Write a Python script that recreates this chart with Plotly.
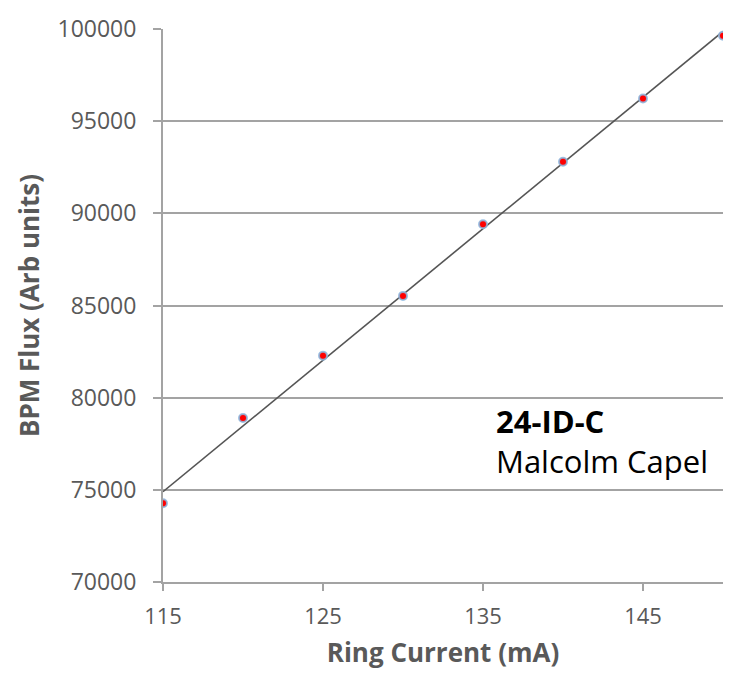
import numpy as np
import plotly.graph_objects as go

ring_current = [115, 120, 125, 130, 135, 140, 145, 150]
bpm_flux = [74275, 78900, 82280, 85520, 89410, 92800, 96230, 99640]
x_ticks = [115, 125, 135, 145]
y_ticks = [70000, 75000, 80000, 85000, 90000, 95000, 100000]

slope, intercept = np.polyfit(ring_current, bpm_flux, 1)
trend_x = [min(ring_current), max(ring_current)]
trend_y = [slope * v + intercept for v in trend_x]

FONT = "Open Sans"
GRAY = "#595959"
GRID = "#a3a3a3"

fig = go.Figure()
fig.add_trace(go.Scatter(x=trend_x, y=trend_y, mode="lines",
                         line=dict(color="#555555", width=1.6),
                         hoverinfo="skip", showlegend=False))
fig.add_trace(go.Scatter(x=ring_current, y=bpm_flux, mode="markers",
                         marker=dict(color="#ff0000", size=8,
                                     line=dict(color="rgba(140,185,225,0.85)", width=2)),
                         showlegend=False))

fig.update_layout(
    width=736, height=678,
    margin=dict(l=163, r=13, t=19, b=96),
    paper_bgcolor="white", plot_bgcolor="white",
    font=dict(family=FONT, color=GRAY),
    xaxis=dict(range=[115, 150], tickvals=x_ticks, ticks="outside", ticklen=7,
               tickcolor=GRID, tickwidth=1.5, showgrid=False, zeroline=False,
               showline=True, linecolor=GRID, linewidth=2,
               tickfont=dict(size=22, color=GRAY), ticklabelstandoff=7,
               title=dict(text="<b>Ring Current (mA)</b>", font=dict(size=26, color=GRAY),
                          standoff=14)),
    yaxis=dict(range=[70000, 100000], tickvals=y_ticks, tickformat="d",
               ticks="outside", ticklen=8,
               tickcolor=GRID, tickwidth=1.5, showgrid=True, gridcolor=GRID, gridwidth=2,
               zeroline=False, showline=True, linecolor=GRID, linewidth=2,
               tickfont=dict(size=23, color=GRAY), ticklabelstandoff=12,
               title=dict(text="<b>BPM Flux (Arb units)</b>", font=dict(size=26, color=GRAY),
                          standoff=10)),
)

plot_l, plot_r, plot_t, plot_b = 163, 723, 19, 582
def px(xp):
    return (xp - plot_l) / (plot_r - plot_l)
def py(yp):
    return (plot_b - yp) / (plot_b - plot_t)

fig.add_annotation(x=px(494), y=py(438), xref="paper", yref="paper", xanchor="left",
                   yanchor="middle", align="left", showarrow=False,
                   text="<b>24-ID-C</b><br>Malcolm Capel",
                   font=dict(family=FONT, size=31, color="black"))

fig.write_html("out.html")
